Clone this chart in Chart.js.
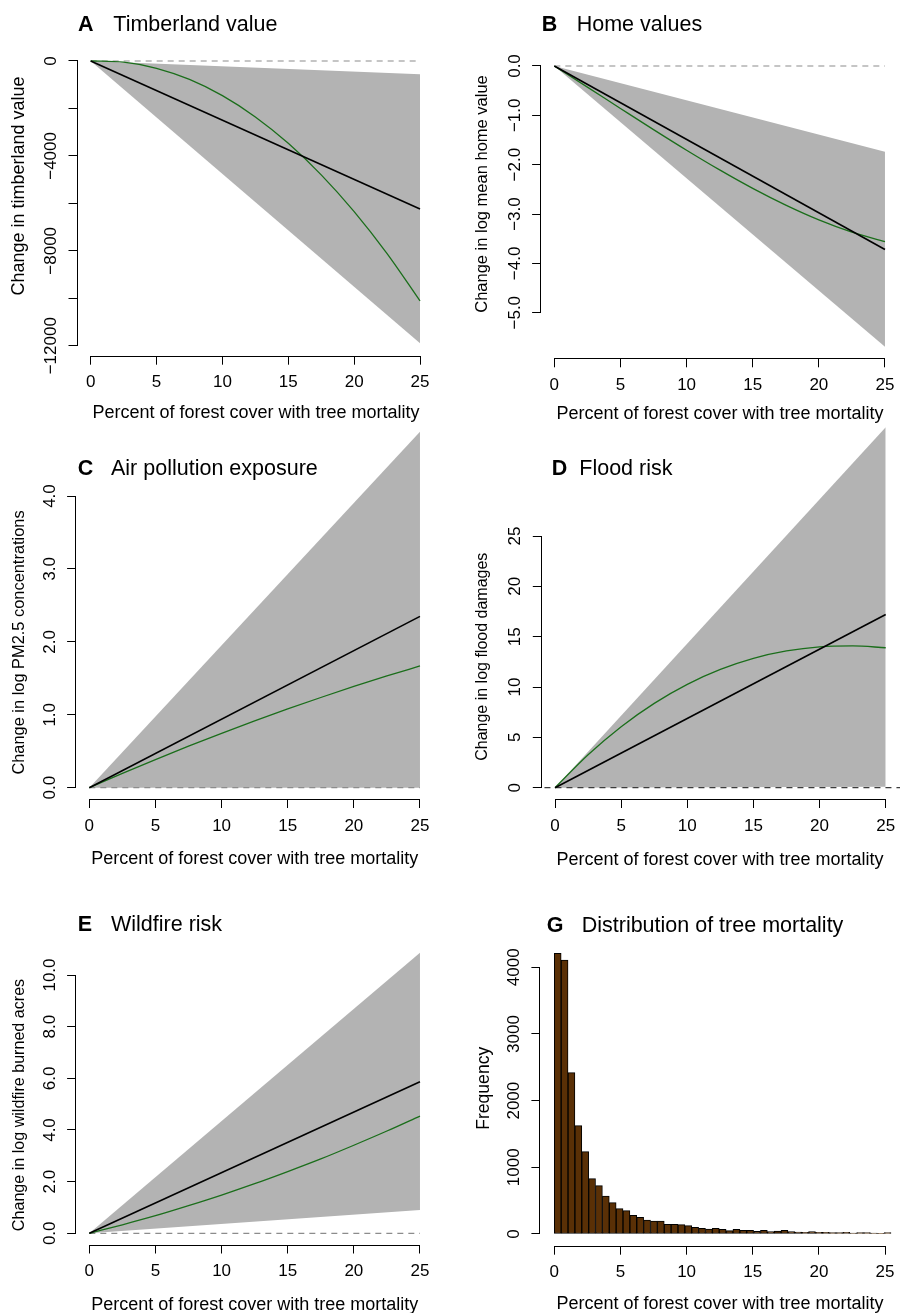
<!DOCTYPE html>
<html>
<head>
<meta charset="utf-8">
<title>Tree mortality effects</title>
<script src="https://cdn.jsdelivr.net/npm/chart.js@4.4.1/dist/chart.umd.min.js"></script>
<style>
  body { margin: 0; background: #fff; }
  #fig { position: relative; width: 900px; height: 1313px; background: #fff; overflow: hidden; }
  #fig canvas { position: absolute; }
</style>
</head>
<body>
<div id="fig">
  <canvas id="pA" width="450" height="425" style="left:0;top:0"></canvas>
  <canvas id="pB" width="450" height="425" style="left:450px;top:0"></canvas>
  <canvas id="pC" width="450" height="445" style="left:0;top:425px"></canvas>
  <canvas id="pD" width="450" height="445" style="left:450px;top:425px"></canvas>
  <canvas id="pE" width="450" height="443" style="left:0;top:870px"></canvas>
  <canvas id="pG" width="450" height="443" style="left:450px;top:870px"></canvas>
</div>
<script>
const FONT = "'Liberation Sans', Arial, Helvetica, sans-serif";
Chart.defaults.font.family = FONT;
Chart.defaults.color = '#000';

// shared x values (percent of forest cover with tree mortality)
const pctTicks = [0, 5, 10, 15, 20, 25];
const lineX = [0, 25];
const curveX = [0, 2.5, 5, 7.5, 10, 12.5, 15, 17.5, 20, 22.5, 25];
const refX = [0, 25];
const floodRefX = [-0.8, 26.1];

// A  timberland value
const timberFit = [0, -6240];
const timberCurve = [0, -50, -309, -779, -1461, -2357, -3469, -4799, -6348, -8118, -10112];
const timberLow = [0, -11900];
const timberHigh = [0, -562];
const timberTicks = [0, -2000, -4000, -6000, -8000, -10000, -12000];
const timberTickLabels = ['0', '', '−4000', '', '−8000', '', '−12000'];

// B  home values
const homeFit = [0, -3.72];
const homeCurve = [0, -0.428, -0.86, -1.289, -1.707, -2.106, -2.48, -2.819, -3.118, -3.367, -3.56];
const homeLow = [0, -5.69];
const homeHigh = [0, -1.74];
const homeTicks = [0, -1, -2, -3, -4, -5];
const homeTickLabels = ['0.0', '−1.0', '−2.0', '−3.0', '−4.0', '−5.0'];

// C  air pollution
const airFit = [0, 2.35];
const airCurve = [0, 0.196, 0.386, 0.569, 0.746, 0.916, 1.08, 1.237, 1.388, 1.532, 1.67];
const airLow = [0, 0.0];
const airHigh = [0, 4.88];
const airTicks = [0, 1, 2, 3, 4];
const airTickLabels = ['0.0', '1.0', '2.0', '3.0', '4.0'];

// D  flood risk
const floodFit = [0, 17.2];
const floodCurve = [0, 3.27, 6.06, 8.38, 10.27, 11.75, 12.85, 13.58, 13.99, 14.08, 13.9];
const floodLow = [0, 0.1];
const floodHigh = [0, 35.8];
const floodTicks = [0, 5, 10, 15, 20, 25];
const floodTickLabels = ['0', '5', '10', '15', '20', '25'];

// E  wildfire risk
const fireFit = [0, 5.87];
const fireCurve = [0, 0.33, 0.68, 1.07, 1.48, 1.92, 2.39, 2.88, 3.41, 3.96, 4.54];
const fireLow = [0, 0.90];
const fireHigh = [0, 10.86];
const fireTicks = [0, 2, 4, 6, 8, 10];
const fireTickLabels = ['0.0', '2.0', '4.0', '6.0', '8.0', '10.0'];

// G  histogram of tree mortality (bin centres, counts)
const mortBins = [0.260, 0.779, 1.299, 1.818, 2.337, 2.857, 3.376, 3.896, 4.415, 4.934,
  5.454, 5.973, 6.493, 7.012, 7.532, 8.051, 8.570, 9.090, 9.609, 10.129,
  10.648, 11.167, 11.687, 12.206, 12.726, 13.245, 13.764, 14.284, 14.803, 15.323,
  15.842, 16.361, 16.881, 17.400, 17.920, 18.439, 18.958, 19.478, 19.997, 20.517,
  21.036, 21.555, 22.075, 22.594, 23.114, 23.633, 24.152, 24.672, 25.191];
const mortCounts = [4210, 4110, 2420, 1625, 1235, 830, 725, 570, 470, 380,
  350, 280, 250, 210, 195, 195, 145, 145, 140, 125,
  100, 85, 75, 85, 70, 50, 70, 55, 55, 40,
  55, 35, 45, 55, 35, 30, 25, 35, 25, 25,
  20, 20, 25, 15, 20, 20, 15, 10, 20];
const freqTicks = [0, 1000, 2000, 3000, 4000];
const freqTickLabels = ['0', '1000', '2000', '3000', '4000'];

const xLabel = 'Percent of forest cover with tree mortality';

const xy = (xs, ys) => xs.map((x, i) => ({x: x, y: ys[i]}));

function rotText(ctx, s, x, y) {
    ctx.save();
    ctx.translate(x, y);
    ctx.rotate(-Math.PI / 2);
    ctx.fillText(s, 0, 0);
    ctx.restore();
}

// R-style decorations: axis lines between end ticks, rotated y labels, titles
const rDeco = {
    id: 'rDeco',
    afterDraw(chart, args, o) {
        const ctx = chart.ctx;
        const a = chart.chartArea;
        const xs = chart.scales.x, ys = chart.scales.y;
        ctx.save();
        ctx.strokeStyle = '#000';
        ctx.lineWidth = 1;
        ctx.beginPath();
        const by = Math.round(a.bottom) + 0.5;
        ctx.moveTo(xs.getPixelForValue(xs.ticks[0].value), by);
        ctx.lineTo(xs.getPixelForValue(xs.ticks[xs.ticks.length - 1].value), by);
        const lx = Math.round(a.left) - 0.5;
        ctx.moveTo(lx, ys.getPixelForValue(ys.ticks[0].value));
        ctx.lineTo(lx, ys.getPixelForValue(ys.ticks[ys.ticks.length - 1].value));
        ctx.stroke();

        ctx.fillStyle = '#000';
        ctx.textAlign = 'center';
        ctx.textBaseline = 'alphabetic';
        ctx.font = '17px ' + FONT;
        ys.ticks.forEach((t, i) => {
            const lab = o.yLabels[i];
            if (lab) rotText(ctx, lab, a.left - 21.4, ys.getPixelForValue(t.value));
        });
        ctx.font = o.ylabSize + 'px ' + FONT;
        rotText(ctx, o.ylab, o.ylabX, o.ylabY);
        ctx.font = '18px ' + FONT;
        ctx.fillText(xLabel, o.xlabX, o.xlabY);

        ctx.textAlign = 'left';
        ctx.font = 'bold 21.5px ' + FONT;
        ctx.fillText(o.letter, o.letterX, o.titleY);
        ctx.font = '21.5px ' + FONT;
        ctx.fillText(o.title, o.titleX, o.titleY);
        ctx.restore();
    }
};

function axis(range, ticks, fit, showLabels) {
    return {
        type: 'linear',
        min: range[0],
        max: range[1],
        offset: false,
        afterFit: fit,
        afterBuildTicks: s => { s.ticks = ticks.map(v => ({value: v})); },
        grid: {drawOnChartArea: false, drawTicks: true, tickLength: 9, color: '#000', lineWidth: 1, offset: false},
        border: {display: false},
        ticks: {display: showLabels, color: '#000', padding: 1, maxRotation: 0, autoSkip: false,
                font: {size: 17, lineHeight: 2}}
    };
}

function makePanel(id, p) {
    const canvas = document.getElementById(id);
    const W = canvas.width, H = canvas.height;
    return new Chart(canvas, {
        type: p.type || 'line',
        data: {datasets: p.datasets},
        options: {
            responsive: false,
            animation: false,
            devicePixelRatio: 1,
            layout: {padding: {left: 0, top: p.area.top, right: W - p.area.right, bottom: 0}},
            plugins: {legend: {display: false}, tooltip: {enabled: false}, rDeco: p.deco},
            elements: {point: {radius: 0}},
            scales: {
                x: axis(p.x, pctTicks, s => { s.height = H - p.area.bottom; }, true),
                y: axis(p.y, p.yTicks, s => { s.width = p.area.left; }, false)
            }
        },
        plugins: [rDeco]
    });
}

function effectSets(fit, curve, low, high, dashX, dashColor) {
    return [
        {data: xy(lineX, fit), borderColor: '#000', borderWidth: 1.6, order: 1},
        {data: xy(curveX, curve), borderColor: '#1b6e1b', borderWidth: 1.3,
         cubicInterpolationMode: 'monotone', order: 2},
        {data: xy(dashX, [0, 0]), borderColor: dashColor, borderWidth: 1.2, borderDash: [6, 5], order: 3},
        {data: xy(lineX, low), borderColor: 'rgba(0,0,0,0)', fill: false, order: 5},
        {data: xy(lineX, high), borderColor: 'rgba(0,0,0,0)', backgroundColor: '#b3b3b3', fill: '-1', order: 4}
    ];
}

makePanel('pA', {
    area: {left: 77.5, right: 433.2, top: 49.6, bottom: 355.7},
    x: [-1, 26], y: [-12420, 480], yTicks: timberTicks,
    datasets: effectSets(timberFit, timberCurve, timberLow, timberHigh, refX, '#8c8c8c'),
    deco: {letter: 'A', title: 'Timberland value', letterX: 78, titleX: 113.3, titleY: 31,
           ylab: 'Change in timberland value', ylabSize: 18, ylabX: 24.4, ylabY: 186,
           xlabX: 256, xlabY: 418.3, yLabels: timberTickLabels}
});

makePanel('pB', {
    area: {left: 91.1, right: 448.2, top: 54.75, bottom: 358.3},
    x: [-1, 26], y: [-5.924, 0.228], yTicks: homeTicks,
    datasets: effectSets(homeFit, homeCurve, homeLow, homeHigh, refX, '#8c8c8c'),
    deco: {letter: 'B', title: 'Home values', letterX: 91.7, titleX: 126.7, titleY: 30.7,
           ylab: 'Change in log mean home value', ylabSize: 16.5, ylabX: 36.6, ylabY: 194,
           xlabX: 270, xlabY: 419, yLabels: homeTickLabels}
});

makePanel('pC', {
    area: {left: 76.1, right: 433.2, top: 0, bottom: 374},
    x: [-1, 26], y: [-0.155, 4.974], yTicks: airTicks,
    datasets: effectSets(airFit, airCurve, airLow, airHigh, refX, '#8c8c8c'),
    deco: {letter: 'C', title: 'Air pollution exposure', letterX: 77.7, titleX: 111, titleY: 50.3,
           ylab: 'Change in log PM2.5 concentrations', ylabSize: 16.4, ylabX: 23.9, ylabY: 217.5,
           xlabX: 254.7, xlabY: 439.3, yLabels: airTickLabels}
});

makePanel('pD', {
    area: {left: 91.8, right: 450, top: 0, bottom: 374},
    x: [-1, 26.08], y: [-1.122, 36.025], yTicks: floodTicks,
    datasets: effectSets(floodFit, floodCurve, floodLow, floodHigh, floodRefX, '#3c3c3c'),
    deco: {letter: 'D', title: 'Flood risk', letterX: 101.7, titleX: 129.3, titleY: 50,
           ylab: 'Change in log flood damages', ylabSize: 16, ylabX: 36.5, ylabY: 231.7,
           xlabX: 270, xlabY: 440, yLabels: floodTickLabels}
});

makePanel('pE', {
    area: {left: 76.1, right: 433.2, top: 71.7, bottom: 374.5},
    x: [-1, 26], y: [-0.4336, 11.29], yTicks: fireTicks,
    datasets: effectSets(fireFit, fireCurve, fireLow, fireHigh, refX, '#8c8c8c'),
    deco: {letter: 'E', title: 'Wildfire risk', letterX: 77.7, titleX: 111, titleY: 60.7,
           ylab: 'Change in log wildfire burned acres', ylabSize: 16.1, ylabX: 23.8, ylabY: 235,
           xlabX: 254.7, xlabY: 440, yLabels: fireTickLabels}
});

makePanel('pG', {
    type: 'bar',
    area: {left: 90.4, right: 450, top: 72.1, bottom: 375.7},
    x: [-1.05, 26.13], y: [-175.5, 4378], yTicks: freqTicks,
    datasets: [{
        data: xy(mortBins, mortCounts),
        backgroundColor: '#5a3006',
        borderColor: '#000',
        borderWidth: 1,
        borderSkipped: false,
        barPercentage: 1,
        categoryPercentage: 1
    }],
    deco: {letter: 'G', title: 'Distribution of tree mortality', letterX: 96.7, titleX: 131.7, titleY: 61.7,
           ylab: 'Frequency', ylabSize: 17.6, ylabX: 38.6, ylabY: 218.3,
           xlabX: 270, xlabY: 439.3, yLabels: freqTickLabels}
});
</script>
</body>
</html>
